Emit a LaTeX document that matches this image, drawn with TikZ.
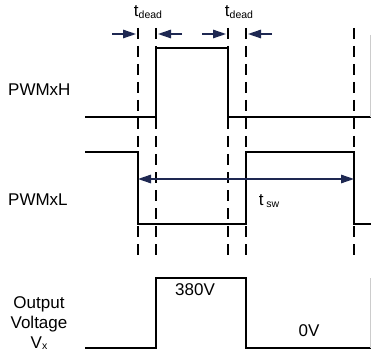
\documentclass[tikz,border=0pt]{standalone}
\usepackage{fontspec}
\setmainfont{Liberation Sans}
\usetikzlibrary{arrows.meta, positioning}
\definecolor{arrownavy}{RGB}{30,40,82}
\newcommand{\sublbl}[1]{\raisebox{-1.5pt}{\fontsize{10.5}{11}\selectfont #1}}

\begin{document}
\begin{tikzpicture}[x=1pt, y=-1pt, >={Triangle[length=13pt, width=8.5pt]},
    sig/.style={line width=1.3pt, line join=miter},
    guide/.style={line width=1.8pt, dash pattern=on 11pt off 7pt},
    marker/.style={draw=arrownavy, fill=arrownavy, line width=1.4pt},
    lbl/.style={font=\fontsize{17}{20}\selectfont, inner sep=0pt}]
    \useasboundingbox (0,0) rectangle (371,355);

    % Dashed switching instants
    \foreach \x in {138, 156, 228, 246, 354} {
      \draw[guide] (\x, 28) -- (\x, 258);
    }

    % PWMxH
    \draw[sig] (85,117) -- (156,117) -- (156,48) -- (228,48) -- (228,117) -- (371,117);
    \draw[gray!40, line width=0.8pt] (370,35) -- (370,117);

    % PWMxL
    \draw[sig] (85,152) -- (138,152) -- (138,224) -- (246,224) -- (246,152) -- (354,152) -- (354,224) -- (371,224);

    % Output voltage
    \draw[sig] (85,348) -- (156,348) -- (156,278) -- (246,278) -- (246,348) -- (371,348);
    \draw[gray!40, line width=0.8pt] (370,278) -- (370,348);

    % Dead time markers
    \coordinate (da1) at (112,34);  \coordinate (db1) at (136,34);
    \coordinate (da2) at (182,34);  \coordinate (db2) at (158,34);
    \coordinate (da3) at (202,34);  \coordinate (db3) at (226,34);
    \coordinate (da4) at (272,34);  \coordinate (db4) at (248,34);
    \foreach \i in {1,...,4} {
      \draw[marker, ->] (da\i) -- (db\i);
    }

    % Switching period
    \coordinate (swL) at (138,179);
    \coordinate (swR) at (354,179);
    \draw[marker, <->] (swL) -- (swR);

    % Labels
    \node[lbl] (dead1) at (148,12) {t\sublbl{dead}};
    \node[lbl] (dead2) at (239,12) {t\sublbl{dead}};
    \node[lbl] (tsw) at (269,201) {t\,\sublbl{sw}};
    \node[lbl, anchor=west] (pwmh) at (8,90) {PWMxH};
    \node[lbl, anchor=west] (pwml) at (8,200) {PWMxL};
    \node[lbl, align=center] (vout) at (39,323) {Output\\Voltage\\V\sublbl{x}};
    \node[lbl] (vhigh) at (195,290) {380V};
    \node[lbl] (vlow) at (309,331) {0V};
  \end{tikzpicture}
\end{document}
